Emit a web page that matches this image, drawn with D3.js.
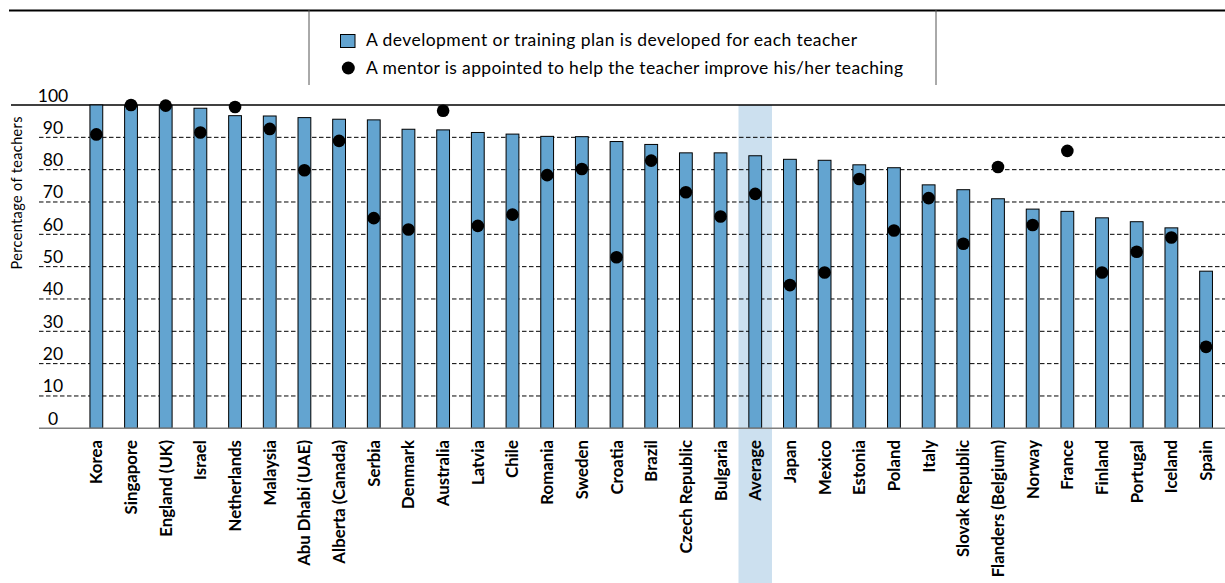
<!DOCTYPE html>
<html>
<head>
<meta charset="utf-8">
<script src="https://cdn.jsdelivr.net/npm/d3@7"></script>
<style>
  html, body { margin: 0; padding: 0; background: #fff; }
  svg { display: block; font-family: Lato, "Open Sans", sans-serif; }
</style>
</head>
<body>
<svg id="chart" width="1225" height="583"></svg>
<script>
// Countries, ordered by share of teachers with a development/training plan
const categories = [
  "Korea", "Singapore", "England (UK)", "Israel", "Netherlands", "Malaysia",
  "Abu Dhabi (UAE)", "Alberta (Canada)", "Serbia", "Denmark", "Australia",
  "Latvia", "Chile", "Romania", "Sweden", "Croatia", "Brazil",
  "Czech Republic", "Bulgaria", "Average", "Japan", "Mexico", "Estonia",
  "Poland", "Italy", "Slovak Republic", "Flanders (Belgium)", "Norway",
  "France", "Finland", "Portugal", "Iceland", "Spain"
];
// Development or training plan is developed for each teacher (%)
const planValues = [
  100, 99.9, 99.9, 99.0, 96.7, 96.6, 96.1, 95.6, 95.4, 92.5, 92.3,
  91.5, 91.0, 90.3, 90.2, 88.7, 87.8, 85.2, 85.2, 84.3, 83.2, 82.9,
  81.5, 80.6, 75.3, 73.8, 71.0, 67.8, 67.1, 65.1, 63.9, 62.0, 48.6
];
// A mentor is appointed to help the teacher improve (%)
const mentorValues = [
  90.9, 100, 99.8, 91.5, 99.4, 92.6, 79.8, 88.9, 65.0, 61.5, 98.2,
  62.6, 66.1, 78.3, 80.2, 52.9, 82.8, 73.0, 65.5, 72.5, 44.3, 48.2,
  77.1, 61.2, 71.2, 57.1, 80.8, 62.9, 85.8, 48.2, 54.6, 59.0, 25.2
];
const yTicks = [0, 10, 20, 30, 40, 50, 60, 70, 80, 90, 100];
const legendLabels = [
  "A development or training plan is developed for each teacher",
  "A mentor is appointed to help the teacher improve his/her teaching"
];
const highlighted = "Average";

const barFill = "#63a4d0";
const highlightFill = "#cce0ef";

const svg = d3.select("#chart");

const x = d3.scaleBand().domain(categories).range([79, 1223.4]).padding(0);
const y = d3.scaleLinear().domain([0, 100]).range([428.3, 105]);
const barW = 12.8;

// Legend frame
svg.append("line").attr("x1", 9).attr("x2", 1225).attr("y1", 10.5).attr("y2", 10.5)
  .attr("stroke", "#000").attr("stroke-width", 2);
[309, 936].forEach(px => {
  svg.append("line").attr("x1", px).attr("x2", px).attr("y1", 10).attr("y2", 85)
    .attr("stroke", "#555").attr("stroke-width", 1);
});
const legend = svg.append("g");
legend.append("rect").attr("x", 340.5).attr("y", 34.5).attr("width", 14.5).attr("height", 13)
  .attr("fill", barFill).attr("stroke", "#000").attr("stroke-width", 1);
legend.append("circle").attr("cx", 348.3).attr("cy", 68).attr("r", 6.5).attr("fill", "#000");
const legendWidths = [491, 537];
legend.selectAll("text.leg").data(legendLabels).join("text")
  .attr("class", "leg")
  .attr("x", 366)
  .attr("y", (d, i) => 46 + i * 27.5)
  .attr("font-size", 17.5)
  .attr("textLength", (d, i) => legendWidths[i])
  .attr("lengthAdjust", "spacing")
  .attr("fill", "#000")
  .text(d => d);

// Highlight band behind the average column
svg.append("rect")
  .attr("x", x(highlighted) + 0.6)
  .attr("y", y(100))
  .attr("width", x.bandwidth() - 1.2)
  .attr("height", 583 - y(100))
  .attr("fill", highlightFill);

// Dashed gridlines
svg.append("g").selectAll("line").data(yTicks.filter(t => t > 0 && t < 100)).join("line")
  .attr("x1", 39).attr("x2", 1225)
  .attr("y1", d => y(d)).attr("y2", d => y(d))
  .attr("stroke", "#000").attr("stroke-width", 1)
  .attr("stroke-dasharray", "4.5,2.5");

// Top solid line at 100
svg.append("line").attr("x1", 11).attr("x2", 1225).attr("y1", y(100)).attr("y2", y(100))
  .attr("stroke", "#000").attr("stroke-width", 1.3);

// Y tick labels, sitting above each gridline
svg.append("g").selectAll("text").data(yTicks).join("text")
  .attr("x", 53).attr("y", d => y(d) - 3.5)
  .attr("text-anchor", "middle")
  .attr("font-size", 17.5)
  .attr("fill", "#000")
  .text(d => d);

// Y axis title
svg.append("text")
  .attr("transform", "translate(22,193) rotate(-90)")
  .attr("text-anchor", "middle")
  .attr("font-size", 14.5)
  .attr("textLength", 153)
  .attr("lengthAdjust", "spacing")
  .attr("fill", "#000")
  .text("Percentage of teachers");

// Bars
svg.append("g").selectAll("rect").data(categories).join("rect")
  .attr("x", d => x(d) + (x.bandwidth() - barW) / 2)
  .attr("y", (d, i) => y(planValues[i]))
  .attr("width", barW)
  .attr("height", (d, i) => y(0) - y(planValues[i]))
  .attr("fill", barFill)
  .attr("stroke", "#000")
  .attr("stroke-width", 1);

// Baseline
svg.append("line").attr("x1", 39).attr("x2", 1225).attr("y1", y(0)).attr("y2", y(0))
  .attr("stroke", "#7f7f7f").attr("stroke-width", 1.5);

// Mentor markers
svg.append("g").selectAll("circle").data(categories).join("circle")
  .attr("cx", d => x(d) + x.bandwidth() / 2)
  .attr("cy", (d, i) => y(mentorValues[i]))
  .attr("r", 6.3)
  .attr("fill", "#000");

// Category labels
svg.append("g").selectAll("text").data(categories).join("text")
  .attr("transform", d => `translate(${x(d) + x.bandwidth() / 2 + 6},440) rotate(-90)`)
  .attr("text-anchor", "end")
  .attr("font-size", 16.8)
  .attr("font-weight", "bold")
  .attr("fill", "#000")
  .text(d => d);
</script>
</body>
</html>
